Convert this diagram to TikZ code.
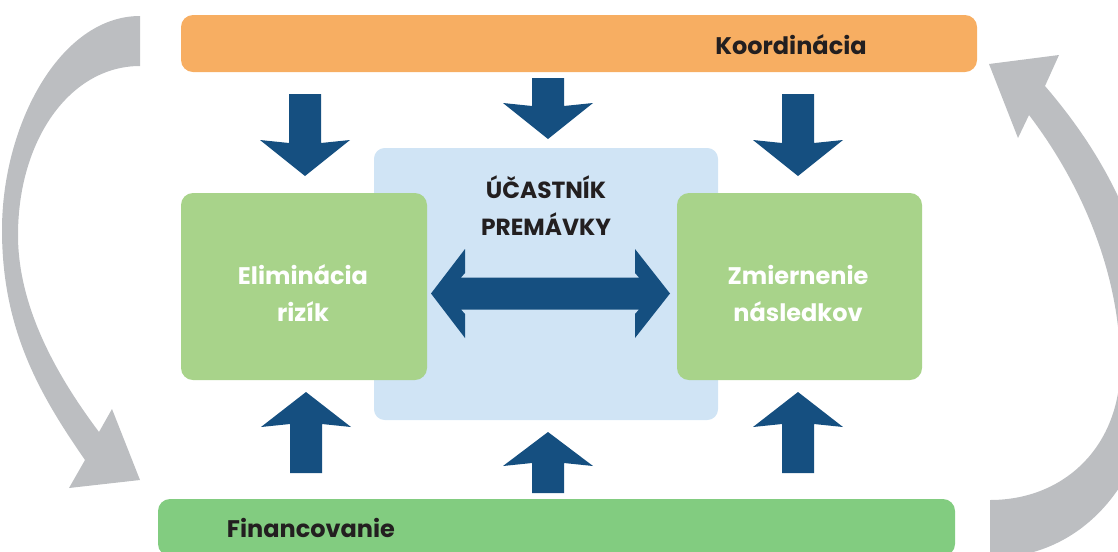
\documentclass[tikz,border=0pt]{standalone}
\usepackage{fontspec}
\setmainfont{Poppins}
\definecolor{korange}{HTML}{F7AE62}
\definecolor{fgreen}{HTML}{82CC80}
\definecolor{lgreen}{HTML}{A8D38A}
\definecolor{lblue}{HTML}{D0E4F5}
\definecolor{ablue}{HTML}{154F80}
\definecolor{agray}{HTML}{BCBEC1}
\definecolor{txt}{HTML}{231F20}
\begin{document}
\begin{tikzpicture}[x=0.75pt,y=-0.75pt,
  bar/.style={rectangle, rounded corners=9pt, inner sep=0pt, draw=none},
  lbl/.style={font=\fontsize{18}{22}\selectfont\bfseries, text=txt, inner sep=0pt, anchor=base},
  slbl/.style={font=\fontsize{17.5}{20}\selectfont\bfseries, text=txt, inner sep=0pt, anchor=base},
  wlbl/.style={lbl, text=white},
  blockarrow/.style={fill=ablue, draw=none},
  grayarrow/.style={fill=agray, draw=none}]
\useasboundingbox (0,0) rectangle (1118,551);
\clip (0,0) rectangle (1118,551);

% gray circular arrows
\path[grayarrow] (140,16) .. controls (60,16) and (2,125) .. (2,230)
  .. controls (2,330) and (40,395) .. (85,460)
  -- (69,488) -- (140,480) -- (112,409) -- (99,432)
  .. controls (60,380) and (18,310) .. (18,235)
  .. controls (18,140) and (70,66) .. (140,66) -- cycle;
\path[grayarrow] (990,500) -- (990,558)
  .. controls (1090,558) and (1155,470) .. (1155,360)
  .. controls (1155,240) and (1100,150) .. (1045,86)
  -- (1059,55) -- (989,64) -- (1018,138) -- (1029,115)
  .. controls (1090,195) and (1123,290) .. (1120,375)
  .. controls (1116,450) and (1062,500) .. (990,500) -- cycle;

% bars and boxes
\node[bar, fill=korange, minimum width={796*0.75pt}, minimum height={57*0.75pt}] (koord) at (579,43.5) {};
\node[lbl] (koordt) at (791,54) {Koordinácia};
\node[bar, fill=fgreen, minimum width={797*0.75pt}, minimum height={57*0.75pt}] (fin) at (556.5,527.5) {};
\node[lbl] (fint) at (311,537) {Financovanie};
\node[bar, fill=lblue, rounded corners=8pt, minimum width={344*0.75pt}, minimum height={272*0.75pt}] (ucast) at (546,284) {};
\node[slbl] (ucast1) at (546,198) {ÚČASTNÍK};
\node[slbl] (ucast2) at (546,235) {PREMÁVKY};
\node[bar, fill=lgreen, minimum width={246*0.75pt}, minimum height={187*0.75pt}] (elim) at (304,286.5) {};
\node[wlbl] (elim1) at (303,284.5) {Eliminácia};
\node[wlbl] (elim2) at (303,321.5) {rizík};
\node[bar, fill=lgreen, minimum width={245*0.75pt}, minimum height={187*0.75pt}] (zmier) at (799.5,286.5) {};
\node[wlbl] (zmier1) at (798,284.5) {Zmiernenie};
\node[wlbl] (zmier2) at (798,321.5) {následkov};

% down arrows
\foreach \c/\t/\b/\p in {305/94/140/176, 548/78/103/139, 798/94/140/176}
  \path[blockarrow] ({\c-16},\t) -- ({\c+16},\t) -- ({\c+16},{\b+3}) -- ({\c+45},\b)
    -- (\c,\p) -- ({\c-45},\b) -- ({\c-16},{\b+3}) -- cycle;
% up arrows
\foreach \c/\t/\b/\p in {306/473/427/392, 548/493/466/432, 798/473/427/392}
  \path[blockarrow] ({\c-16},\t) -- ({\c+16},\t) -- ({\c+16},{\b-3}) -- ({\c+45},\b)
    -- (\c,\p) -- ({\c-45},\b) -- ({\c-16},{\b-3}) -- cycle;
% double arrow
\path[blockarrow] (431,293.5) -- (465,249) -- (465,273) -- (461,277.5) -- (639,277.5)
  -- (635,273) -- (635,249) -- (670,293.5) -- (635,338) -- (635,314) -- (639,309.5)
  -- (461,309.5) -- (465,314) -- (465,338) -- cycle;
\end{tikzpicture}
\end{document}
